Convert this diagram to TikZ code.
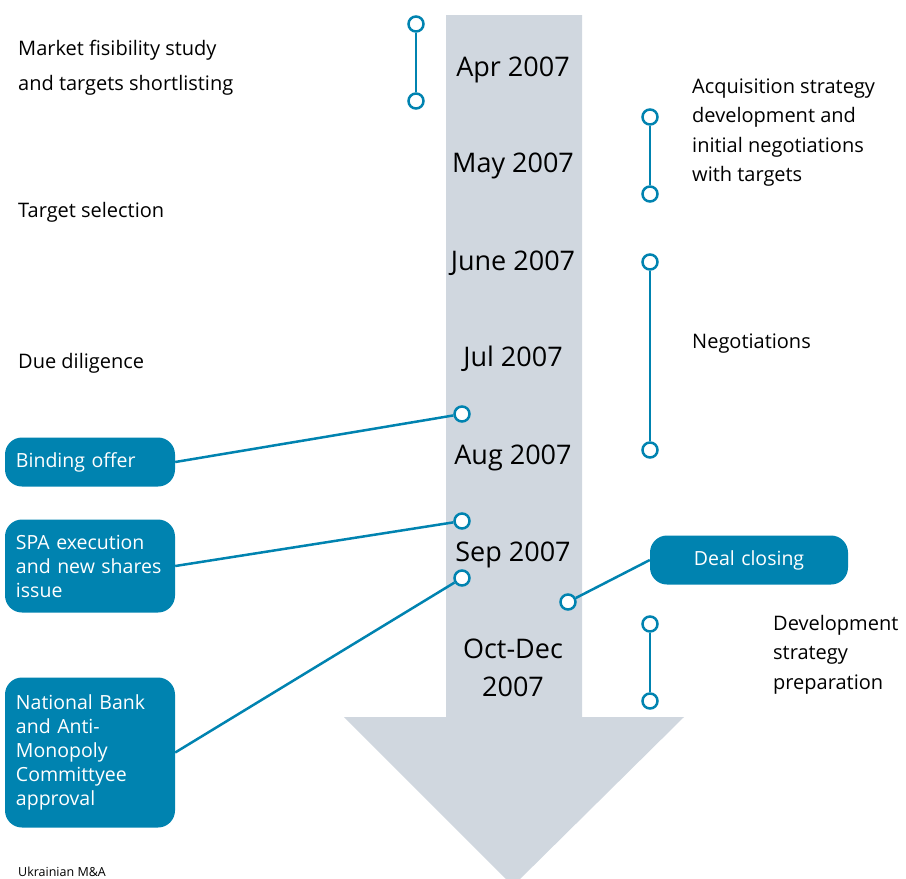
\documentclass[tikz,border=0pt]{standalone}
\usepackage{fontspec}
\setmainfont{Open Sans}
\definecolor{ublue}{HTML}{0083B0}
\definecolor{shaft}{HTML}{D0D7DF}
\tikzset{
	pin/.style={circle,draw=ublue,fill=white,line width=2.5pt,inner sep=0pt,minimum size=15pt},
	link/.style={draw=ublue,line width=2.5pt},
	% multi-line notes sit on the baseline of their last line
	note/.style={anchor=base west,align=left,inner sep=0pt,font=\fontsize{20}{29.5}\selectfont},
	month/.style={anchor=base,align=center,inner sep=0pt,font=\fontsize{27}{38}\selectfont},
	box/.style={fill=ublue,rounded corners=17pt,text=white,align=left,inner xsep=11pt,
		text width=148pt,font=\fontsize{19.5}{24}\selectfont}
}

\begin{document}
\begin{tikzpicture}[x=1pt,y=-1pt]
	\useasboundingbox (0,0) rectangle (906,879);

	% the time arrow
	\fill [shaft] (446,15) -- (582,15) -- (582,717) -- (684,717) -- (513,886)
		-- (344,717) -- (446,717) -- cycle;

	\node [month] (apr) at (513,76) {Apr 2007};
	\node [month] (may) at (513,172) {May 2007};
	\node [month] (jun) at (513,270) {June 2007};
	\node [month] (jul) at (513,366) {Jul 2007};
	\node [month] (aug) at (513,464) {Aug 2007};
	\node [month] (sep) at (513,561) {Sep 2007};
	\node [month] (oct) at (513,696) {Oct-Dec\\[-0.5pt]2007};

	% phases
	\node [note,font=\fontsize{20}{35}\selectfont] (study) at (18,90) {Market fisibility study\\and targets shortlisting};
	\node [note] (select) at (18,217) {Target selection};
	\node [note] (diligence) at (18,368) {Due diligence};
	\node [note] (acq) at (692,181.5) {Acquisition strategy\\development and\\initial negotiations\\with targets};
	\node [note] (nego) at (692,348) {Negotiations};
	\node [note] (devel) at (773,689) {Development\\strategy\\preparation};

	\node [pin] (s1) at (416,24) {};
	\node [pin] (s2) at (416,101) {};
	\node [pin] (a1) at (650,117) {};
	\node [pin] (a2) at (650,194) {};
	\node [pin] (n1) at (650,262) {};
	\node [pin] (n2) at (650,450) {};
	\node [pin] (d1) at (650,624) {};
	\node [pin] (d2) at (650,701) {};
	\draw [link] (s1) -- (s2);
	\draw [link] (a1) -- (a2);
	\draw [link] (n1) -- (n2);
	\draw [link] (d1) -- (d2);

	% milestones
	\node [box,minimum height=49pt] (offer) at (90,462) {Binding offer};
	\node [box,minimum height=93pt] (spa) at (90,566) {SPA execution\\and new shares\\issue};
	\node [box,minimum height=150pt] (nbu) at (90,752.5) {National Bank\\and Anti-\\Monopoly\\Committyee\\approval};
	\node [box,align=center,text width=176pt,minimum height=49pt] (close) at (749,560) {Deal closing};

	\node [pin] (m1) at (462,414) {};
	\node [pin] (m2) at (462,521) {};
	\node [pin] (m3) at (462,578) {};
	\node [pin] (m4) at (568,602) {};
	\draw [link] (offer.east) -- (m1);
	\draw [link] (spa.east) -- (m2);
	\draw [link] (nbu.east) -- (m3);
	\draw [link] (close.west) -- (m4);

	\node [note,font=\fontsize{12.5}{15}\selectfont] (src) at (18,876) {Ukrainian M\&A};
\end{tikzpicture}
\end{document}
